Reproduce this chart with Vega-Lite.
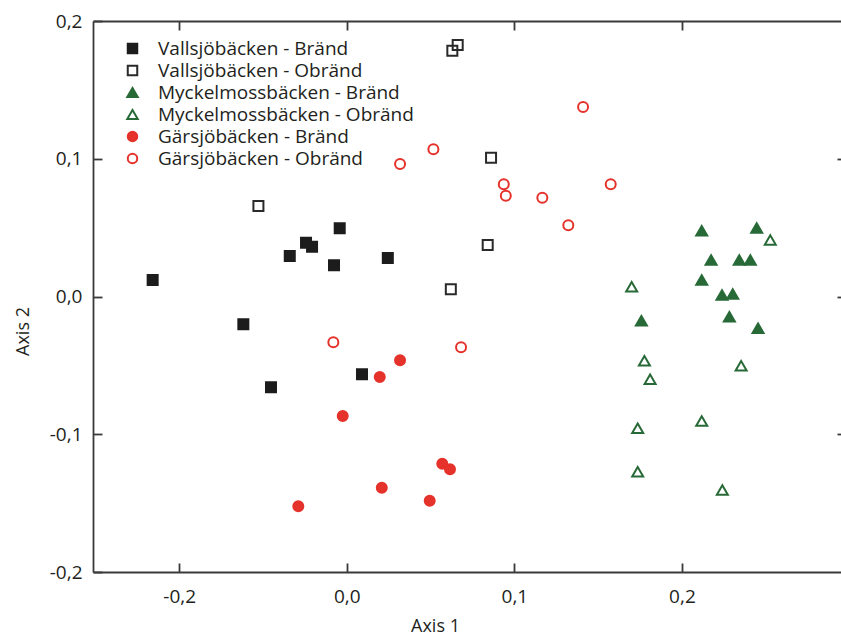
{
  "$schema": "https://vega.github.io/schema/vega-lite/v6.json",
  "width": 748,
  "height": 551,
  "autosize": {"type": "none"},
  "padding": {"left": 93, "top": 21, "right": 0, "bottom": 64},
  "background": "white",
  "config": {
    "view": {"stroke": null},
    "font": "Open Sans",
    "axis": {
      "grid": false,
      "domainColor": "#3a3a3a",
      "domainWidth": 1.8,
      "tickColor": "#3a3a3a",
      "tickWidth": 1.8,
      "labelFont": "Open Sans",
      "labelFontSize": 19,
      "labelColor": "#231f20",
      "titleFont": "Open Sans",
      "titleFontSize": 18,
      "titleFontWeight": "normal",
      "titleColor": "#231f20"
    },
    "legend": {
      "orient": "none",
      "direction": "vertical",
      "legendX": 30,
      "legendY": 18,
      "padding": 0,
      "labelFont": "Open Sans",
      "labelFontSize": 19,
      "labelColor": "#231f20",
      "labelLimit": 0,
      "labelOffset": 16,
      "symbolSize": 90,
      "symbolStrokeWidth": 2,
      "rowPadding": 2
    }
  },
  "datasets": {
    "ordination": [
      {"group": "Vallsjöbäcken - Bränd", "axis1": -0.1158, "axis2": 0.0120},
      {"group": "Vallsjöbäcken - Bränd", "axis1": -0.0617, "axis2": -0.0202},
      {"group": "Vallsjöbäcken - Bränd", "axis1": -0.0452, "axis2": -0.0659},
      {"group": "Vallsjöbäcken - Bränd", "axis1": -0.0340, "axis2": 0.0294},
      {"group": "Vallsjöbäcken - Bränd", "axis1": -0.0243, "axis2": 0.0391},
      {"group": "Vallsjöbäcken - Bränd", "axis1": -0.0207, "axis2": 0.0362},
      {"group": "Vallsjöbäcken - Bränd", "axis1": -0.0076, "axis2": 0.0227},
      {"group": "Vallsjöbäcken - Bränd", "axis1": -0.0042, "axis2": 0.0495},
      {"group": "Vallsjöbäcken - Bränd", "axis1": 0.0245, "axis2": 0.0279},
      {"group": "Vallsjöbäcken - Bränd", "axis1": 0.0091, "axis2": -0.0565},
      {"group": "Vallsjöbäcken - Obränd", "axis1": -0.0527, "axis2": 0.0657},
      {"group": "Vallsjöbäcken - Obränd", "axis1": 0.0662, "axis2": 0.1826},
      {"group": "Vallsjöbäcken - Obränd", "axis1": 0.0630, "axis2": 0.1784},
      {"group": "Vallsjöbäcken - Obränd", "axis1": 0.0861, "axis2": 0.1008},
      {"group": "Vallsjöbäcken - Obränd", "axis1": 0.0841, "axis2": 0.0374},
      {"group": "Vallsjöbäcken - Obränd", "axis1": 0.0621, "axis2": 0.0052},
      {"group": "Myckelmossbäcken - Bränd", "axis1": 0.2118, "axis2": 0.0478},
      {"group": "Myckelmossbäcken - Bränd", "axis1": 0.2446, "axis2": 0.0497},
      {"group": "Myckelmossbäcken - Bränd", "axis1": 0.2174, "axis2": 0.0265},
      {"group": "Myckelmossbäcken - Bränd", "axis1": 0.2342, "axis2": 0.0265},
      {"group": "Myckelmossbäcken - Bränd", "axis1": 0.2408, "axis2": 0.0265},
      {"group": "Myckelmossbäcken - Bränd", "axis1": 0.2118, "axis2": 0.0120},
      {"group": "Myckelmossbäcken - Bränd", "axis1": 0.2239, "axis2": 0.0011},
      {"group": "Myckelmossbäcken - Bränd", "axis1": 0.2303, "axis2": 0.0018},
      {"group": "Myckelmossbäcken - Bränd", "axis1": 0.1758, "axis2": -0.0176},
      {"group": "Myckelmossbäcken - Bränd", "axis1": 0.2283, "axis2": -0.0147},
      {"group": "Myckelmossbäcken - Bränd", "axis1": 0.2454, "axis2": -0.0231},
      {"group": "Myckelmossbäcken - Obränd", "axis1": 0.2527, "axis2": 0.0410},
      {"group": "Myckelmossbäcken - Obränd", "axis1": 0.1700, "axis2": 0.0071},
      {"group": "Myckelmossbäcken - Obränd", "axis1": 0.1776, "axis2": -0.0466},
      {"group": "Myckelmossbäcken - Obränd", "axis1": 0.1810, "axis2": -0.0601},
      {"group": "Myckelmossbäcken - Obränd", "axis1": 0.2353, "axis2": -0.0502},
      {"group": "Myckelmossbäcken - Obränd", "axis1": 0.1736, "axis2": -0.0957},
      {"group": "Myckelmossbäcken - Obränd", "axis1": 0.2118, "axis2": -0.0904},
      {"group": "Myckelmossbäcken - Obränd", "axis1": 0.1736, "axis2": -0.1272},
      {"group": "Myckelmossbäcken - Obränd", "axis1": 0.2241, "axis2": -0.1405},
      {"group": "Gärsjöbäcken - Bränd", "axis1": 0.0318, "axis2": -0.0463},
      {"group": "Gärsjöbäcken - Bränd", "axis1": 0.0197, "axis2": -0.0584},
      {"group": "Gärsjöbäcken - Bränd", "axis1": -0.0024, "axis2": -0.0868},
      {"group": "Gärsjöbäcken - Bränd", "axis1": 0.0209, "axis2": -0.1388},
      {"group": "Gärsjöbäcken - Bränd", "axis1": -0.0289, "axis2": -0.1523},
      {"group": "Gärsjöbäcken - Bränd", "axis1": 0.0570, "axis2": -0.1214},
      {"group": "Gärsjöbäcken - Bränd", "axis1": 0.0616, "axis2": -0.1254},
      {"group": "Gärsjöbäcken - Bränd", "axis1": 0.0495, "axis2": -0.1482},
      {"group": "Gärsjöbäcken - Obränd", "axis1": -0.0080, "axis2": -0.0332},
      {"group": "Gärsjöbäcken - Obränd", "axis1": 0.0318, "axis2": 0.0962},
      {"group": "Gärsjöbäcken - Obränd", "axis1": 0.0517, "axis2": 0.1069},
      {"group": "Gärsjöbäcken - Obränd", "axis1": 0.0682, "axis2": -0.0369},
      {"group": "Gärsjöbäcken - Obränd", "axis1": 0.0937, "axis2": 0.0815},
      {"group": "Gärsjöbäcken - Obränd", "axis1": 0.0949, "axis2": 0.0732},
      {"group": "Gärsjöbäcken - Obränd", "axis1": 0.1167, "axis2": 0.0717},
      {"group": "Gärsjöbäcken - Obränd", "axis1": 0.1322, "axis2": 0.0517},
      {"group": "Gärsjöbäcken - Obränd", "axis1": 0.1410, "axis2": 0.1376},
      {"group": "Gärsjöbäcken - Obränd", "axis1": 0.1575, "axis2": 0.0815}
    ]
  },
  "data": {"name": "ordination"},
  "layer": [
    {
      "mark": {"type": "point", "size": 100, "strokeWidth": 2, "opacity": 1, "strokeJoin": "miter"},
      "encoding": {
        "x": {
          "field": "axis1",
          "type": "quantitative",
          "scale": {"domain": [-0.1514, 0.2949], "zero": false, "nice": false},
          "axis": {
            "orient": "bottom",
            "values": [-0.1, 0, 0.1, 0.2],
            "tickSize": -9,
            "labelPadding": 24,
            "labelExpr": "datum.value < -0.05 ? '-0,2' : replace(format(datum.value, '.1f'), '.', ',')",
            "title": "Axis 1",
            "titleX": 342,
            "titleY": 59,
            "titleAlign": "center",
            "titleBaseline": "alphabetic",
            "titleAnchor": null
          }
        },
        "y": {
          "field": "axis2",
          "type": "quantitative",
          "scale": {"domain": [-0.2, 0.2], "zero": false, "nice": false},
          "axis": {
            "orient": "left",
            "values": [-0.2, -0.1, 0, 0.1, 0.2],
            "tickSize": -9,
            "labelPadding": 20,
            "labelExpr": "(datum.value < 0 ? '-' : '') + replace(format(abs(datum.value), '.1f'), '.', ',')",
            "title": "Axis 2",
            "titleAngle": -90,
            "titleX": -65,
            "titleY": 310,
            "titleAlign": "center",
            "titleBaseline": "alphabetic",
            "titleAnchor": null
          }
        },
        "fill": {
          "field": "group",
          "type": "nominal",
          "title": null,
          "scale": {
            "domain": ["Vallsjöbäcken - Bränd", "Vallsjöbäcken - Obränd", "Myckelmossbäcken - Bränd", "Myckelmossbäcken - Obränd", "Gärsjöbäcken - Bränd", "Gärsjöbäcken - Obränd"],
            "range": ["#1c1c1c", "transparent", "#276a37", "transparent", "#e5322b", "transparent"]
          }
        },
        "stroke": {
          "field": "group",
          "type": "nominal",
          "title": null,
          "scale": {
            "domain": ["Vallsjöbäcken - Bränd", "Vallsjöbäcken - Obränd", "Myckelmossbäcken - Bränd", "Myckelmossbäcken - Obränd", "Gärsjöbäcken - Bränd", "Gärsjöbäcken - Obränd"],
            "range": ["#1c1c1c", "#2a2a2a", "#276a37", "#276a37", "#e5322b", "#e5322b"]
          }
        },
        "shape": {
          "field": "group",
          "type": "nominal",
          "title": null,
          "scale": {
            "domain": ["Vallsjöbäcken - Bränd", "Vallsjöbäcken - Obränd", "Myckelmossbäcken - Bränd", "Myckelmossbäcken - Obränd", "Gärsjöbäcken - Bränd", "Gärsjöbäcken - Obränd"],
            "range": ["square", "square", "M0,-0.95L1.1,0.95L-1.1,0.95Z", "M0,-0.95L1.1,0.95L-1.1,0.95Z", "circle", "circle"]
          }
        }
      }
    },
    {
      "mark": {"type": "point", "opacity": 0},
      "encoding": {
        "x": {
          "field": "axis1",
          "type": "quantitative",
          "axis": {"orient": "top", "values": [-0.1, 0, 0.1, 0.2], "tickSize": -9, "labels": false, "title": null}
        },
        "y": {
          "field": "axis2",
          "type": "quantitative",
          "axis": {"orient": "right", "values": [-0.1, 0, 0.1], "tickSize": -4, "labels": false, "domain": false, "title": null}
        }
      }
    }
  ],
  "resolve": {"axis": {"x": "independent", "y": "independent"}}
}
